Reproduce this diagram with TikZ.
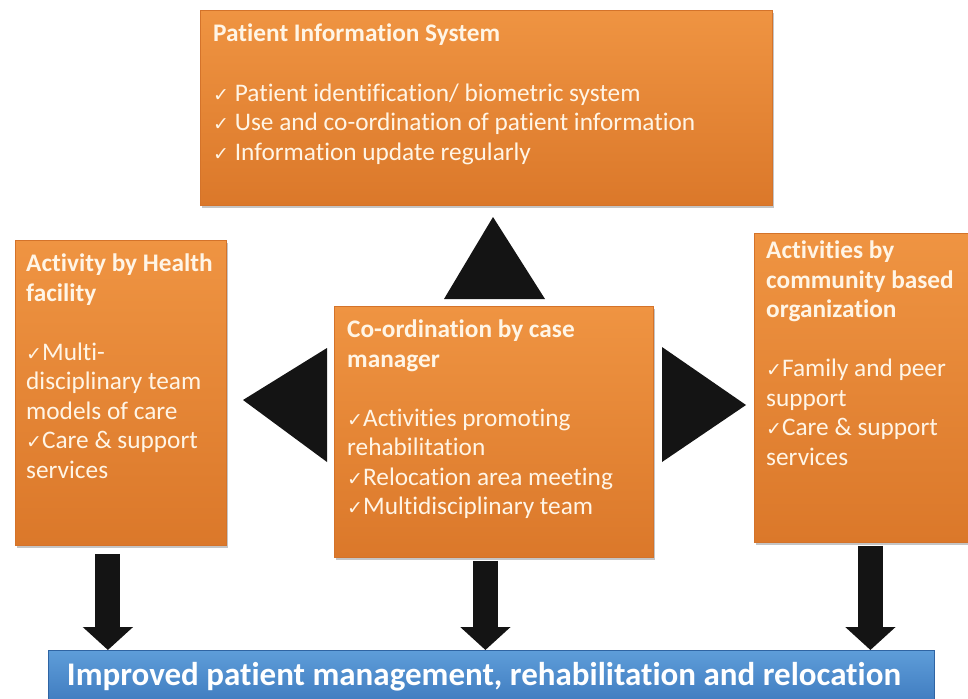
\documentclass[tikz,border=0pt]{standalone}
\usepackage{fontspec}
\setmainfont{Carlito}[Ligatures=NoCommon]
\newfontfamily\tickfont{DejaVu Sans}
\usepackage{tikz}
\usetikzlibrary{positioning,arrows.meta,shadows}

\definecolor{boxtop}{HTML}{EF9442}
\definecolor{boxbot}{HTML}{DB782A}
\definecolor{boxedge}{HTML}{D4732A}
\definecolor{goaltop}{HTML}{5E9DD9}
\definecolor{goalbot}{HTML}{3B77BC}
\definecolor{goaledge}{HTML}{2F64A3}
\definecolor{ink}{HTML}{FFF5E6}
\definecolor{wedgefill}{HTML}{141414}

\newcommand{\tick}{{\tickfont\fontsize{19pt}{19pt}\selectfont ✓}}

\begin{document}
\begin{tikzpicture}[x=1pt,y=-1pt,
		panel/.style={anchor=north west, inner sep=0pt, top color=boxtop, bottom color=boxbot, draw=boxedge, line width=0.8pt, drop shadow={shadow xshift=2pt, shadow yshift=-3pt, fill=black!45, opacity=0.5}},
		words/.style={anchor=north west, align=left, inner sep=0pt, text=ink, font=\fontsize{25.3pt}{29.5pt}\selectfont},
		blockarrow/.style={line width=25pt, draw=wedgefill, -{Triangle[width=49pt,length=23pt]}},
		wedge/.style={fill=wedgefill}]
		\useasboundingbox (0,0) rectangle (968,698);
		
		\node[panel, minimum width=572pt, minimum height=195pt] (pis) at (200,10) {};
		\node[panel, minimum width=211pt, minimum height=305pt] (hf) at (15,240) {};
		\node[panel, minimum width=319pt, minimum height=251pt] (cm) at (334,306) {};
		\node[panel, minimum width=230pt, minimum height=309pt] (cbo) at (754,233) {};
		\node[anchor=north west, inner sep=0pt, minimum width=886pt, minimum height=60pt, top color=goaltop, bottom color=goalbot, draw=goaledge, line width=0.8pt] (goal) at (48,650) {};
		
		\node[words] (pistext) at ([shift={(13,14)}]pis.north west) {{\bfseries Patient Information System}\\[30pt]
			\tick{} Patient identification/ biometric system\\
			\tick{} Use and co-ordination of patient information\\
			\tick{} Information update regularly};
		\node[words] (hftext) at ([shift={(11,14)}]hf.north west) {{\bfseries Activity by Health}\\
			{\bfseries facility}\\[29.5pt]
			\tick Multi-\\
			disciplinary team\\
			models of care\\
			\tick Care \& support\\
			services};
		\node[words] (cmtext) at ([shift={(13,14)}]cm.north west) {{\bfseries Co-ordination by case}\\
			{\bfseries manager}\\[29.5pt]
			\tick Activities promoting\\
			rehabilitation\\
			\tick Relocation area meeting\\
			\tick Multidisciplinary team};
		\node[words] (cbotext) at ([shift={(12,8)}]cbo.north west) {{\bfseries Activities by}\\
			{\bfseries community based}\\
			{\bfseries organization}\\[29.5pt]
			\tick Family and peer\\
			support\\
			\tick Care \& support\\
			services};
		\node[text=white, font=\fontsize{33pt}{38pt}\selectfont\bfseries] (goaltext) at (484,677) {Improved patient management, rehabilitation and relocation};
		
		\fill[wedge] (493,217) -- (444,299) -- (545,299) -- cycle;
		\fill[wedge] (243,400) -- (327,348) -- (327,462) -- cycle;
		\fill[wedge] (746,405) -- (662,347) -- (662,462) -- cycle;
		
		\draw[blockarrow] ([xshift=-13pt,yshift=-8pt]hf.south) -- ([xshift=-13pt]hf.south |- goal.north);
		\draw[blockarrow] ([xshift=-8.5pt,yshift=-3pt]cm.south) -- ([xshift=-8.5pt]cm.south |- goal.north);
		\draw[blockarrow] ([xshift=1pt,yshift=-3pt]cbo.south) -- ([xshift=1pt]cbo.south |- goal.north);
	\end{tikzpicture}
\end{document}
